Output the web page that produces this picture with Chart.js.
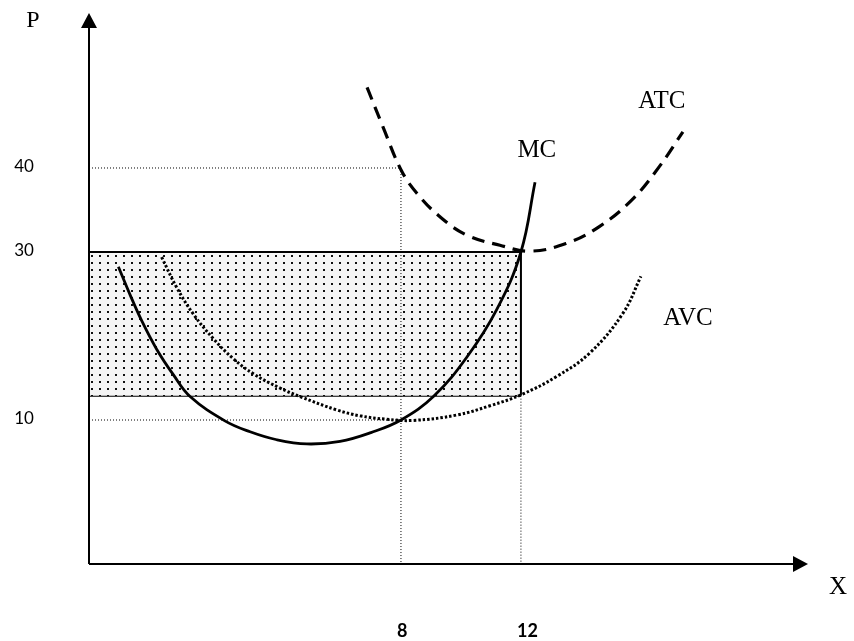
<!DOCTYPE html>
<html>
<head>
<meta charset="utf-8">
<script src="https://cdn.jsdelivr.net/npm/chart.js@4.4.1/dist/chart.umd.min.js"></script>
<style>
  html, body { margin: 0; padding: 0; background: #fff; }
  #grafico { display: block; }
</style>
</head>
<body>
<canvas id="grafico" width="854" height="641"></canvas>
<script>
// curve values (quantity -> price)
const mcQ  = [-1.42, -1.03, -0.64, -0.14, 0.41, 0.97, 2.13, 2.97, 3.86, 4.86, 5.97, 7, 8, 9.1, 10.2, 11.2, 12, 12.47];
const mcP  = [28.25, 24.9, 21.8, 18.4, 15.4, 12.8, 9.9, 8.6, 7.65, 7.15, 7.45, 8.5, 10, 12.86, 17.5, 23.2, 30, 38.3];

const atcQ = [6.87, 7.4, 8, 8.53, 9.3, 10.2, 11.3, 12.3, 13.5, 14.6, 15.7, 16.6, 17.4];
const atcP = [49.6, 44.9, 39.8, 37, 34.2, 32, 30.8, 30.1, 31, 33, 36.2, 40.1, 44.3];

const avcQ = [0.02, 0.52, 1.08, 1.74, 2.41, 3.08, 3.97, 4.63, 5.86, 6.63, 7.5, 8.4, 9.87, 10.97, 12, 13.2, 14.3, 15.4, 16];
const avcP = [29.4, 25.8, 22.6, 19.7, 17.3, 15.5, 13.8, 12.8, 11.2, 10.5, 10.1, 9.95, 10.6, 11.7, 13.0, 15.2, 18.0, 22.7, 27.1];

// tick labels
const precoTicks = [10, 30, 40];
const qtdTicks = [8, 12];

// shaded rectangle (loss area) and guide values
const qRet = 12;
const pRetTopo = 30;
const pRetBase = 12.9;
const qGuia = 8;
const pGuiaAlto = 40;
const pGuiaBaixo = 10;

// axis range (the axes do not start at zero in the drawing)
const qMin = -2.4, qMax = 21.57;
const pMin = -7.14, pMax = 58.45;

function pontos(xs, ys) {
    return xs.map((x, i) => ({ x: x, y: ys[i] }));
}

function criarPadrao() {
    const c = document.createElement('canvas');
    c.width = 8;
    c.height = 7;
    const g = c.getContext('2d');
    g.fillStyle = '#f5f5f5';
    g.fillRect(0, 0, 8, 7);
    g.fillStyle = '#111';
    g.fillRect(3, 3, 2, 2);
    return g.createPattern(c, 'repeat');
}

const guia = { borderColor: '#000', borderWidth: 1, borderDash: [1, 2], pointRadius: 0, fill: false, order: 5 };

// axes with arrows, tick labels and curve names
const eixosPlugin = {
    id: 'eixos',
    afterDatasetsDraw(chart) {
        const ctx = chart.ctx;
        const a = chart.chartArea;
        ctx.save();
        ctx.strokeStyle = '#000';
        ctx.fillStyle = '#000';
        ctx.lineWidth = 2;
        ctx.beginPath();
        ctx.moveTo(a.left, a.bottom);
        ctx.lineTo(a.left, a.top + 14);
        ctx.moveTo(a.left, a.bottom);
        ctx.lineTo(a.right - 14, a.bottom);
        ctx.stroke();

        ctx.beginPath();
        ctx.moveTo(a.left, a.top);
        ctx.lineTo(a.left - 8, a.top + 15);
        ctx.lineTo(a.left + 8, a.top + 15);
        ctx.closePath();
        ctx.fill();

        ctx.beginPath();
        ctx.moveTo(a.right, a.bottom);
        ctx.lineTo(a.right - 15, a.bottom - 8);
        ctx.lineTo(a.right - 15, a.bottom + 8);
        ctx.closePath();
        ctx.fill();
        ctx.restore();
    },
    afterDraw(chart) {
        const ctx = chart.ctx;
        const a = chart.chartArea;
        const xs = chart.scales.x;
        const ys = chart.scales.y;
        ctx.save();
        ctx.fillStyle = '#000';
        ctx.textBaseline = 'middle';

        ctx.font = '17px Lato';
        ctx.textAlign = 'center';
        precoTicks.forEach(v => ctx.fillText(String(v), a.left - 65, ys.getPixelForValue(v) - 1));

        ctx.font = 'bold 18px Lato';
        ctx.textAlign = 'left';
        qtdTicks.forEach(v => ctx.fillText(String(v), xs.getPixelForValue(v) - 4, a.bottom + 67));

        ctx.font = '24px "Liberation Serif"';
        ctx.textAlign = 'center';
        ctx.fillText('P', a.left - 56, a.top + 8);
        ctx.font = '25px "Liberation Serif"';
        ctx.fillText('X', a.right + 30, a.bottom + 23);

        ctx.fillText('MC', xs.getPixelForValue(12.53), ys.getPixelForValue(42.1));
        ctx.fillText('ATC', xs.getPixelForValue(16.7), ys.getPixelForValue(47.9));
        ctx.fillText('AVC', xs.getPixelForValue(17.57), ys.getPixelForValue(22.1));
        ctx.restore();
    }
};

new Chart(document.getElementById('grafico'), {
    type: 'line',
    plugins: [eixosPlugin],
    data: {
        datasets: [
            {
                label: 'MC',
                data: pontos(mcQ, mcP),
                borderColor: '#000',
                borderWidth: 2.8,
                pointRadius: 0,
                tension: 0.4,
                fill: false,
                order: 1
            },
            {
                label: 'ATC',
                data: pontos(atcQ, atcP),
                borderColor: '#000',
                borderWidth: 3.2,
                borderDash: [13, 8],
                pointRadius: 0,
                tension: 0.4,
                fill: false,
                order: 1
            },
            {
                label: 'AVC',
                data: pontos(avcQ, avcP),
                borderColor: '#000',
                borderWidth: 3,
                borderDash: [2.5, 2],
                pointRadius: 0,
                tension: 0.4,
                fill: false,
                order: 1
            },
            Object.assign({ label: 'guia40', data: [{ x: qMin, y: pGuiaAlto }, { x: qGuia, y: pGuiaAlto }, { x: qGuia, y: pMin }] }, guia),
            Object.assign({ label: 'guia10', data: [{ x: qMin, y: pGuiaBaixo }, { x: qGuia, y: pGuiaBaixo }] }, guia),
            Object.assign({ label: 'guia12', data: [{ x: qRet, y: pRetBase }, { x: qRet, y: pMin }] }, guia),
            {
                label: 'topo',
                data: [{ x: qMin, y: pRetTopo }, { x: qRet, y: pRetTopo }],
                borderColor: '#000',
                borderWidth: 2,
                pointRadius: 0,
                backgroundColor: criarPadrao(),
                fill: '+1',
                order: 10
            },
            {
                label: 'base',
                data: [{ x: qMin, y: pRetBase }, { x: qRet, y: pRetBase }],
                borderColor: '#000',
                borderWidth: 2,
                pointRadius: 0,
                fill: false,
                order: 10
            },
            {
                label: 'lado',
                data: [{ x: qRet, y: pRetBase }, { x: qRet, y: pRetTopo }],
                borderColor: '#000',
                borderWidth: 2,
                pointRadius: 0,
                fill: false,
                order: 4
            }
        ]
    },
    options: {
        responsive: false,
        animation: false,
        layout: {
            padding: { left: 89, top: 13, right: 46, bottom: 77 }
        },
        scales: {
            x: { type: 'linear', min: qMin, max: qMax, display: false },
            y: { type: 'linear', min: pMin, max: pMax, display: false }
        },
        plugins: {
            legend: { display: false },
            tooltip: { enabled: false }
        }
    }
});
</script>
</body>
</html>
